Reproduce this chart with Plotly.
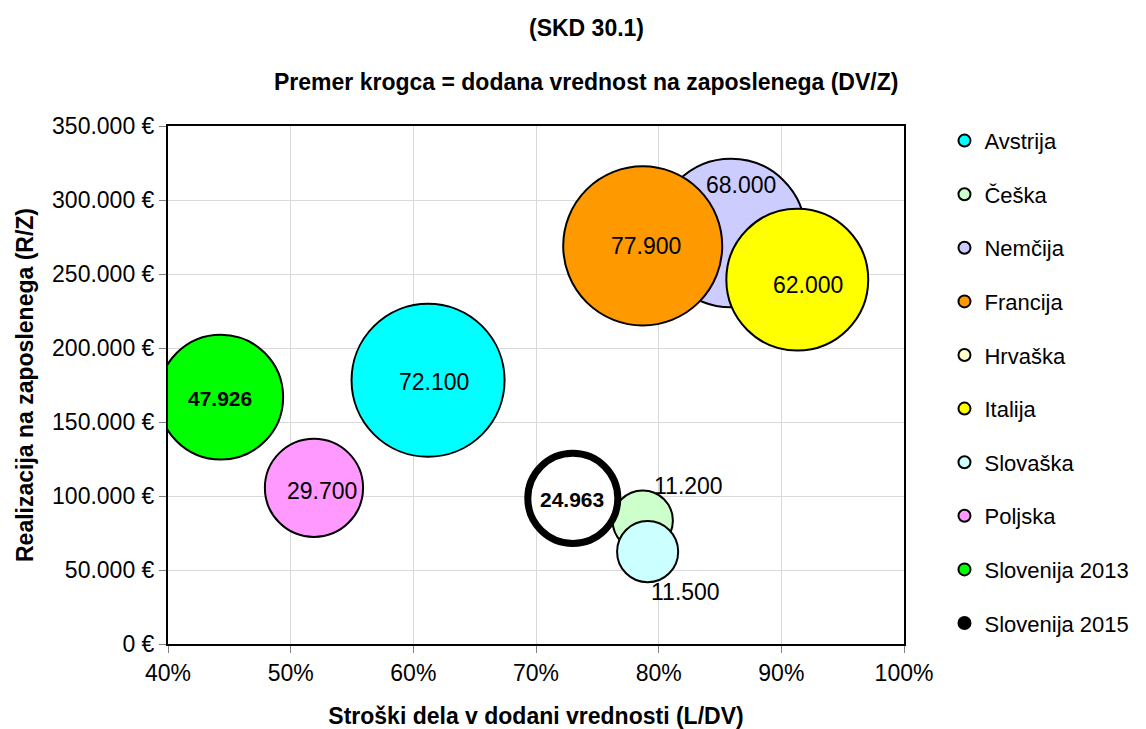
import plotly.graph_objects as go

# podatki (odčitano z grafa)
drzave = ["Avstrija", "Češka", "Nemčija", "Francija", "Hrvaška", "Italija",
          "Slovaška", "Poljska", "Slovenija 2013", "Slovenija 2015"]
stroski_dela = [0.612, 0.787, 0.859, 0.787, None, 0.913, 0.791, 0.519, 0.443, 0.730]
realizacija = [178200, 83400, 277700, 269000, None, 246200, 62400, 105500, 166800, 98400]
dv_na_zap = [72100, 11200, 68000, 77900, None, 62000, 11500, 29700, 47926, 24963]
oznake = ["72.100", "11.200", "68.000", "77.900", "", "62.000", "11.500", "29.700", "47.926", "24.963"]

barve = ["#00FFFF", "#CCFFCC", "#CCCCFF", "#FF9900", "#FFFFCC", "#FFFF00",
         "#CCFFFF", "#FF99FF", "#00FF00", "#FFFFFF"]
debelina = [2, 2, 2, 2, 2, 2, 2, 2, 2, 7]
# premik oznak (px) glede na središče krogca
premik = [(6, -2), (46, 35), (10, 48), (3, 0), (0, 0), (11, -5),
          (38, -40), (8, -3), (-1, -1), (-1, -1)]

fig = go.Figure()
for i, ime in enumerate(drzave):
    zadnji = i == len(drzave) - 1
    fig.add_trace(go.Scatter(
        x=[stroski_dela[i]], y=[realizacija[i]], name=ime, mode="markers",
        legendgroup=ime, showlegend=not zadnji,
        marker=dict(size=[dv_na_zap[i]] if dv_na_zap[i] else None, sizemode="area",
                    sizeref=6.16, color=barve[i], opacity=1,
                    line=dict(color="black", width=debelina[i])),
        hoverinfo="skip"))

# legenda za Slovenijo 2015 (debel črn rob)
fig.add_trace(go.Scatter(x=[None], y=[None], name=drzave[-1], mode="markers",
                         legendgroup=drzave[-1] + " leg",
                         marker=dict(color="black", line=dict(color="black", width=2))))

for i, ime in enumerate(drzave):
    if stroski_dela[i] is None:
        continue
    bold = ime.startswith("Slovenija")
    fig.add_annotation(x=stroski_dela[i], y=realizacija[i], text=oznake[i],
                       showarrow=False, xshift=premik[i][0], yshift=premik[i][1],
                       font=dict(size=23 if not bold else 21, color="black",
                                 family="Liberation Sans",
                                 weight="bold" if bold else "normal"))

fig.add_annotation(x=0.568, y=1.189, xref="paper", yref="paper", text="<b>(SKD 30.1)</b>",
                   showarrow=False, yanchor="middle",
                   font=dict(size=23, family="Liberation Sans", color="black"))
fig.add_annotation(x=0.568, y=1.085, xref="paper", yref="paper",
                   text="<b>Premer krogca = dodana vrednost na zaposlenega (DV/Z)</b>",
                   showarrow=False, yanchor="middle",
                   font=dict(size=23, family="Liberation Sans", color="black"))

fig.update_layout(
    width=1138, height=721,
    margin=dict(l=160, r=237, t=118, b=85),
    paper_bgcolor="white", plot_bgcolor="white",
    separators=",.",
    font=dict(family="Liberation Sans", size=23, color="black"),
    showlegend=True,
    legend=dict(x=1.055, y=1.012, xanchor="left", yanchor="top",
                itemsizing="constant", tracegroupgap=22, maxheight=1,
                font=dict(size=22), bgcolor="rgba(0,0,0,0)"),
    xaxis=dict(range=[0.4, 1.0], tickformat=".0%", dtick=0.1,
               showgrid=True, gridcolor="#D9D9D9", gridwidth=1,
               showline=True, linecolor="black", linewidth=2, mirror=True,
               ticks="outside", ticklen=7, tickcolor="#808080",
               zeroline=False, automargin=False,
               title=dict(text="<b>Stroški dela v dodani vrednosti (L/DV)</b>",
                          font=dict(size=23), standoff=23)),
    yaxis=dict(range=[0, 350000], dtick=50000, tickformat=",.0f", ticksuffix=" €",
               showgrid=True, gridcolor="#D9D9D9", gridwidth=1,
               showline=True, linecolor="black", linewidth=2, mirror=True,
               ticks="outside", ticklen=7, tickcolor="#808080",
               zeroline=False, automargin=False,
               title=dict(text="<b>Realizacija na zaposlenega (R/Z)</b>",
                          font=dict(size=23), standoff=12)),
)

fig.write_html("out.html")
